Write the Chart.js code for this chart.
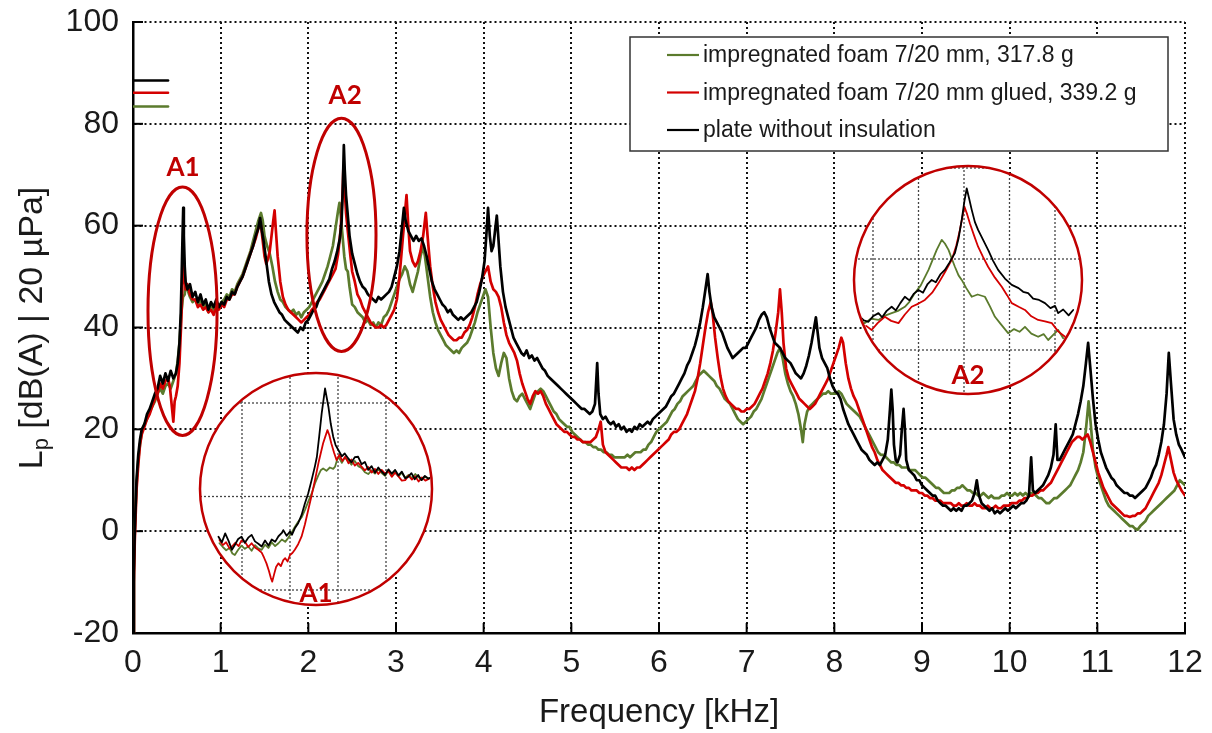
<!DOCTYPE html>
<html>
<head>
<meta charset="utf-8">
<script src="https://cdn.jsdelivr.net/npm/chart.js@4.4.0/dist/chart.umd.min.js"></script>
<style>
  html, body { margin: 0; padding: 0; background: #fff; }
</style>
</head>
<body>
<canvas id="splChart" width="1212" height="733"></canvas>
<script>
// ---- data (frequency in kHz, level in dB(A)) ----
const xTicks = [0, 1, 2, 3, 4, 5, 6, 7, 8, 9, 10, 11, 12];
const yTicks = [-20, 0, 20, 40, 60, 80, 100];

const seriesLabels = [
    'impregnated foam 7/20 mm, 317.8 g',
    'impregnated foam 7/20 mm glued, 339.2 g',
    'plate without insulation'
];

const greenTrace = [
    [0,-20],[0.01,-8],[0.02,0],[0.04,9],[0.06,14],[0.08,17],[0.1,19.5],[0.13,21],[0.16,22],[0.19,23.5],
    [0.22,24.5],[0.25,25.5],[0.28,27],[0.31,28],[0.34,27],[0.37,28.5],[0.4,29],[0.43,28],[0.46,29.5],[0.49,31],
    [0.51,33.5],[0.53,37],[0.55,42.5],[0.57,46],[0.59,46.5],[0.6,48.5],[0.62,47.5],[0.65,46],[0.68,45],[0.71,45.5],
    [0.74,44.5],[0.77,45.5],[0.8,44],[0.83,45],[0.86,43],[0.89,44.5],[0.92,43.5],[0.95,45],[0.98,44],[1.01,45],
    [1.04,45.5],[1.07,46.5],[1.1,46],[1.13,47.5],[1.16,47],[1.19,48.5],[1.22,49.5],[1.25,50.5],[1.28,52],[1.31,53.5],
    [1.34,55],[1.37,57],[1.4,59],[1.43,61],[1.46,62.5],[1.48,61],[1.5,58],[1.53,56],[1.56,54.5],[1.59,52],
    [1.62,49],[1.65,47],[1.68,45.5],[1.71,45],[1.74,44],[1.77,43.5],[1.8,43],[1.83,43.5],[1.86,42.5],[1.89,43],
    [1.92,42],[1.95,43],[1.98,43.5],[2.01,44],[2.04,45],[2.07,46],[2.1,47],[2.13,48],[2.16,49],[2.19,50.5],
    [2.22,52],[2.25,54],[2.28,56],[2.31,59.5],[2.34,63],[2.355,64.5],[2.37,62],[2.39,58],[2.41,54],[2.43,51.5],
    [2.45,51],[2.47,48],[2.5,44.5],[2.53,44],[2.56,43],[2.59,42.5],[2.62,42],[2.65,41],[2.68,41.5],[2.71,40.5],
    [2.74,41],[2.77,40],[2.8,41],[2.83,40.5],[2.86,42],[2.89,42.5],[2.92,43.5],[2.95,45],[2.98,46.5],[3.01,48],
    [3.04,49.5],[3.07,50.5],[3.1,52],[3.13,51],[3.16,48.5],[3.19,47],[3.22,49],[3.25,51],[3.28,54],[3.31,56],
    [3.33,54],[3.36,50],[3.39,46],[3.42,43],[3.45,41],[3.48,39.5],[3.51,38.5],[3.54,37.5],[3.57,36.5],[3.6,36],
    [3.63,35.5],[3.66,35],[3.69,35.5],[3.72,35],[3.75,36],[3.78,36.5],[3.81,37],[3.84,38],[3.87,39.5],[3.9,41],
    [3.93,43],[3.96,44.5],[3.99,46],[4.02,47.5],[4.05,46],[4.08,40],[4.11,35],[4.14,32],[4.17,30.5],[4.2,33],
    [4.23,35],[4.26,34],[4.29,30],[4.32,27.5],[4.35,26],[4.38,25.5],[4.41,26.5],[4.44,27],[4.47,26],[4.5,25],
    [4.53,24],[4.56,25.5],[4.59,27],[4.62,27.5],[4.65,28],[4.68,27.5],[4.71,26.5],[4.74,25.5],[4.77,24.5],[4.8,23.5],
    [4.83,23],[4.86,22],[4.89,21.5],[4.92,21],[4.95,20.5],[4.98,20.5],[5.01,19.5],[5.04,19],[5.07,18.5],[5.1,18],
    [5.13,17.5],[5.16,17.5],[5.19,17],[5.22,17],[5.25,16.5],[5.28,16.5],[5.31,16],[5.34,16],[5.37,15.5],[5.4,15.5],
    [5.43,15],[5.46,15],[5.49,14.5],[5.52,14.5],[5.55,14.5],[5.58,14.5],[5.61,14.5],[5.64,15],[5.67,14.5],[5.7,15],
    [5.73,15.5],[5.76,15.5],[5.79,15.5],[5.82,16],[5.85,16],[5.88,17],[5.91,17.5],[5.94,18.5],[5.97,19.5],[6,20],
    [6.03,20.5],[6.06,21],[6.09,21.5],[6.12,22.5],[6.15,23.5],[6.18,24],[6.21,25],[6.24,25.5],[6.27,26.5],[6.3,27],
    [6.33,27.5],[6.36,28],[6.39,28.5],[6.42,29.5],[6.45,30.5],[6.48,31],[6.51,31.5],[6.54,31],[6.57,30.5],[6.6,30],
    [6.63,29.5],[6.66,28.5],[6.69,28],[6.72,27],[6.75,26],[6.78,25.5],[6.81,25],[6.84,24],[6.87,23],[6.9,22],
    [6.93,21.5],[6.96,21],[6.99,21.5],[7.02,22],[7.05,22.5],[7.08,23.5],[7.11,24],[7.14,25],[7.17,26],[7.2,27.5],
    [7.23,29],[7.26,30.5],[7.29,32],[7.32,33.5],[7.35,35],[7.38,36],[7.41,34],[7.44,31],[7.47,29],[7.5,27.5],
    [7.53,26.5],[7.56,25],[7.59,23],[7.62,20],[7.64,17.5],[7.66,21],[7.69,23.5],[7.72,24.5],[7.75,25],[7.78,25.5],
    [7.81,26],[7.84,26.5],[7.87,27],[7.9,27],[7.93,27.5],[7.96,27],[7.99,27],[8.02,27],[8.05,27.5],[8.08,27],
    [8.11,26],[8.14,25],[8.17,24.5],[8.2,24],[8.23,23.5],[8.26,23],[8.29,22.5],[8.32,21.5],[8.35,20.5],[8.38,19.5],
    [8.41,18.5],[8.44,17.5],[8.47,16.5],[8.5,15.5],[8.53,15],[8.56,15],[8.59,14.5],[8.62,14],[8.65,13.5],[8.68,13.5],
    [8.71,13],[8.74,13],[8.77,12.5],[8.8,12.5],[8.83,12.5],[8.86,12],[8.89,12],[8.92,12],[8.95,11.5],[8.98,11],
    [9.01,10.5],[9.04,10.5],[9.07,10],[9.1,9.5],[9.13,9],[9.16,8.5],[9.19,8.5],[9.22,8],[9.25,7.5],[9.28,7.5],
    [9.31,7.5],[9.34,8],[9.37,8],[9.4,8.5],[9.43,8.5],[9.46,9],[9.49,8.5],[9.52,8],[9.55,8],[9.58,7.5],
    [9.61,7.5],[9.64,7],[9.67,7],[9.7,7.5],[9.73,7],[9.76,6.5],[9.79,7],[9.82,6.5],[9.85,6.5],[9.88,6.5],
    [9.91,7],[9.94,7],[9.97,7.5],[10,7],[10.03,7],[10.06,7.5],[10.09,7],[10.12,7.5],[10.15,7],[10.18,7.5],
    [10.21,7],[10.24,7.5],[10.27,7.5],[10.3,7],[10.33,6.5],[10.36,6.5],[10.39,6],[10.42,5.5],[10.45,5.5],[10.48,6],
    [10.51,6.5],[10.54,6.5],[10.57,7],[10.6,7.5],[10.63,8],[10.66,8.5],[10.69,9],[10.72,10],[10.75,11],[10.78,12],
    [10.81,13.5],[10.84,15.5],[10.87,20],[10.9,25.5],[10.92,22],[10.95,16],[10.98,12.5],[11.01,10.5],[11.04,9],[11.07,7.5],
    [11.1,6],[11.13,5],[11.16,4.5],[11.19,4],[11.22,3.5],[11.25,3],[11.28,2.5],[11.31,2],[11.34,1.5],[11.37,1],
    [11.4,1],[11.43,0.5],[11.46,0.3],[11.49,1],[11.52,1.5],[11.55,2],[11.58,3],[11.61,3.5],[11.64,4],[11.67,4.5],
    [11.7,5],[11.73,5.5],[11.76,6],[11.79,6.5],[11.82,7],[11.85,7.5],[11.88,8],[11.91,9],[11.94,10],[11.97,9.5],[12,9]
];

const redTrace = [
    [0,-20],[0.01,-10],[0.02,-2],[0.04,8],[0.06,13],[0.08,17],[0.1,19],[0.13,20.5],[0.16,22],[0.19,23],
    [0.22,24.5],[0.25,26],[0.28,27],[0.31,29],[0.34,28],[0.37,29.5],[0.4,30],[0.42,28.5],[0.44,25],[0.46,21.5],
    [0.475,25.5],[0.49,26.5],[0.51,28.5],[0.53,33],[0.55,41],[0.565,49],[0.578,54],[0.59,50],[0.6,47.5],[0.62,48.5],
    [0.65,46.5],[0.68,45.5],[0.71,45.5],[0.74,44],[0.77,44.5],[0.8,43.5],[0.83,44],[0.86,43],[0.89,43.5],[0.92,42.5],
    [0.95,44],[0.98,43.5],[1.01,44.5],[1.04,44],[1.07,45.5],[1.1,45.5],[1.13,46.5],[1.16,46.5],[1.19,48],[1.22,49],
    [1.25,50],[1.28,51.5],[1.31,53],[1.34,54.5],[1.37,56],[1.4,57.5],[1.43,59.5],[1.46,60],[1.48,57],[1.5,54],
    [1.52,52.5],[1.54,53.5],[1.56,55],[1.58,58],[1.6,61],[1.615,63],[1.63,59],[1.65,54],[1.68,49],[1.71,46],
    [1.74,44.5],[1.77,43.5],[1.8,43],[1.83,42.5],[1.86,42],[1.89,41.5],[1.92,41],[1.95,41.5],[1.98,42],[2.01,42.5],
    [2.04,43.5],[2.07,44],[2.1,45],[2.13,45.5],[2.16,46.5],[2.19,47.5],[2.22,48.5],[2.25,49.5],[2.28,50.5],[2.31,51.5],
    [2.34,54.5],[2.37,59.5],[2.39,66],[2.4,71.5],[2.415,67],[2.43,62.5],[2.45,59],[2.48,54],[2.5,51],[2.53,49],
    [2.56,46.5],[2.59,45.5],[2.62,44],[2.65,43],[2.68,42],[2.71,41],[2.74,40.5],[2.77,40],[2.8,40],[2.83,40.5],
    [2.86,40],[2.89,40.5],[2.92,41.5],[2.95,42.5],[2.98,43.5],[3.01,45.5],[3.04,50],[3.07,56],[3.1,62],[3.12,66],
    [3.14,60],[3.16,55],[3.19,53],[3.22,52],[3.25,53],[3.28,55],[3.31,58],[3.34,62.5],[3.36,58],[3.39,52],
    [3.42,48],[3.45,45],[3.48,43],[3.51,41.5],[3.54,40.5],[3.57,39.5],[3.6,38.5],[3.63,38],[3.66,37.5],[3.69,37.5],
    [3.72,38],[3.75,38],[3.78,39],[3.81,39.5],[3.84,40.5],[3.87,42],[3.9,44],[3.93,46.5],[3.96,48.5],[3.99,50],
    [4.02,51],[4.05,52],[4.08,49],[4.11,47.5],[4.14,47],[4.17,46],[4.2,44],[4.23,41],[4.26,38.5],[4.29,37],
    [4.32,36],[4.35,35],[4.38,33.5],[4.41,31],[4.44,29],[4.47,27.5],[4.5,26],[4.53,25],[4.56,26.5],[4.59,27.5],
    [4.62,27],[4.65,27.5],[4.68,26.5],[4.71,25],[4.74,24],[4.77,23],[4.8,22],[4.83,21],[4.86,20.5],[4.89,20],
    [4.92,19.5],[4.95,19.5],[4.98,19],[5.01,18.5],[5.04,18.5],[5.07,18],[5.1,18],[5.13,17.5],[5.16,17.5],[5.19,17.5],
    [5.22,17.5],[5.25,18],[5.28,18.5],[5.31,20],[5.335,21.5],[5.36,17],[5.39,15.5],[5.42,15],[5.45,14.5],[5.48,14],
    [5.51,13.5],[5.54,13],[5.57,12.5],[5.6,12.5],[5.63,12.5],[5.66,12],[5.69,12.5],[5.72,12],[5.75,12.5],[5.78,12.5],
    [5.81,13],[5.84,13.5],[5.87,14],[5.9,14.5],[5.93,15],[5.96,15.5],[5.99,16],[6.02,16.5],[6.05,17],[6.08,17.5],
    [6.11,18],[6.14,19],[6.17,19.5],[6.2,19.5],[6.23,20],[6.26,21],[6.29,22],[6.32,23],[6.35,24.5],[6.38,26],
    [6.41,27.5],[6.44,30],[6.47,33],[6.5,36.5],[6.53,40],[6.56,43],[6.59,45],[6.61,43],[6.64,38],[6.67,34],
    [6.7,30.5],[6.73,28],[6.76,26.5],[6.79,25.5],[6.82,25],[6.85,24.5],[6.88,24],[6.91,24],[6.94,23.5],[6.97,23.5],
    [7,24],[7.03,24],[7.06,24.5],[7.09,25],[7.12,26],[7.15,27],[7.18,28],[7.21,29.5],[7.24,31],[7.27,33],
    [7.3,35.5],[7.33,39],[7.36,43],[7.38,47.5],[7.4,43],[7.42,37],[7.45,32],[7.48,30],[7.51,29],[7.54,28],
    [7.57,27],[7.6,26],[7.63,25.5],[7.66,25],[7.69,24.5],[7.72,24],[7.75,24.5],[7.78,25],[7.81,26],[7.84,27],
    [7.87,28],[7.9,29],[7.93,30],[7.96,31.5],[7.99,33],[8.02,34.5],[8.05,36],[8.08,38],[8.1,37],[8.13,33],
    [8.16,30],[8.19,28],[8.22,26.5],[8.25,25.5],[8.28,24],[8.31,22.5],[8.34,21],[8.37,19.5],[8.4,18],[8.43,16.5],
    [8.46,15.5],[8.49,14],[8.52,13],[8.55,12],[8.58,11.5],[8.61,11],[8.64,10.5],[8.67,10],[8.7,9.5],[8.73,9.5],
    [8.76,9],[8.79,9],[8.82,8.5],[8.85,8.5],[8.88,8],[8.91,8],[8.94,8],[8.97,7.5],[9,7.5],[9.03,7],
    [9.06,7],[9.09,6.5],[9.12,6.5],[9.15,6],[9.18,6],[9.21,6],[9.24,5.5],[9.27,5.5],[9.3,5.5],[9.33,5.5],
    [9.36,5],[9.39,5],[9.42,5.5],[9.45,5],[9.48,5],[9.51,5.5],[9.54,5],[9.57,5],[9.6,5.5],[9.63,5],
    [9.66,5],[9.69,4.5],[9.72,4.5],[9.75,5],[9.78,4.5],[9.81,4.5],[9.84,5],[9.87,4.5],[9.9,4.5],[9.93,5],
    [9.96,5],[9.99,5],[10.02,5.5],[10.05,5.5],[10.08,5.5],[10.11,6],[10.14,6],[10.17,6.5],[10.2,6.5],[10.23,7],
    [10.26,7],[10.29,7.5],[10.32,7.5],[10.35,8],[10.38,8],[10.41,8.5],[10.44,9],[10.47,9.5],[10.5,10.5],[10.53,11.5],
    [10.56,12.5],[10.59,13.5],[10.62,14.5],[10.65,15.5],[10.68,16.5],[10.71,17.5],[10.74,18],[10.77,18.5],[10.8,18.5],[10.83,18],
    [10.86,18.5],[10.89,19],[10.92,17.5],[10.95,15.5],[10.98,13.5],[11.01,11.5],[11.04,10],[11.07,8.5],[11.1,7.5],[11.13,6.5],
    [11.16,5.5],[11.19,5],[11.22,4.5],[11.25,4],[11.28,3.5],[11.31,3],[11.34,3],[11.37,2.8],[11.4,3],[11.43,3],
    [11.46,3.5],[11.49,3.5],[11.52,4],[11.55,4.5],[11.58,5.5],[11.61,6.5],[11.64,7.5],[11.67,8.5],[11.7,9.5],[11.73,11],
    [11.76,13],[11.79,15],[11.81,16.5],[11.84,14],[11.87,11.5],[11.9,10],[11.93,9],[11.96,8],[12,7]
];

const blackTrace = [
    [0,-20],[0.01,-8],[0.02,0],[0.04,10],[0.06,15],[0.08,18],[0.1,20],[0.13,21],[0.16,23],[0.19,24],
    [0.22,25.5],[0.25,27],[0.28,28],[0.31,30.5],[0.34,29],[0.37,31],[0.4,29.5],[0.43,31.5],[0.46,30],[0.49,31],
    [0.51,33],[0.53,37],[0.545,43],[0.555,50],[0.565,58],[0.573,63.5],[0.58,58],[0.59,52],[0.6,49],[0.62,47.5],
    [0.65,48.5],[0.68,46],[0.71,47],[0.74,45],[0.77,46.5],[0.8,44.5],[0.83,45.5],[0.86,43.5],[0.89,45],[0.92,44],
    [0.95,45.5],[0.98,44],[1.01,45],[1.04,44.5],[1.07,46],[1.1,45.5],[1.13,47],[1.16,46.5],[1.19,48],[1.22,49],
    [1.25,50],[1.28,51.5],[1.31,53],[1.34,54.5],[1.37,56],[1.4,58],[1.43,59.5],[1.45,61.5],[1.47,59],[1.49,57],
    [1.52,53],[1.55,49],[1.58,46.5],[1.61,45],[1.64,44],[1.67,43],[1.7,42.5],[1.73,41.5],[1.76,41],[1.79,40.5],
    [1.82,40],[1.85,39.5],[1.88,39],[1.91,40],[1.94,39.5],[1.97,41],[2,41.5],[2.03,42.5],[2.06,43.5],[2.09,44],
    [2.12,45.5],[2.15,46.5],[2.18,47.5],[2.21,48.5],[2.24,49.5],[2.27,51.5],[2.3,53],[2.33,55],[2.36,57.5],[2.38,61],
    [2.395,68.5],[2.405,75.8],[2.415,71],[2.43,66],[2.45,62],[2.47,58],[2.5,54.5],[2.53,52.5],[2.56,50.5],[2.59,49],
    [2.62,48],[2.65,47.5],[2.68,46.5],[2.71,46],[2.74,45.5],[2.77,45],[2.8,46],[2.83,45.5],[2.86,46],[2.89,46.5],
    [2.92,47],[2.95,48],[2.98,50],[3.01,52],[3.04,55],[3.07,60],[3.09,63.5],[3.11,61],[3.14,59],[3.17,58],
    [3.2,57],[3.23,58],[3.26,57],[3.29,57.5],[3.32,56],[3.35,54],[3.38,51.5],[3.41,49],[3.44,47.5],[3.47,46.5],
    [3.5,45.5],[3.53,44.5],[3.56,44],[3.59,43],[3.62,43.5],[3.65,42.5],[3.68,42],[3.71,41.5],[3.74,42],[3.77,41.5],
    [3.8,42],[3.83,42.5],[3.86,43],[3.89,44],[3.92,45],[3.95,47],[3.98,49.5],[4.01,53],[4.03,58],[4.05,63.5],
    [4.07,58],[4.09,55],[4.11,56],[4.13,59],[4.15,62],[4.17,57],[4.19,52],[4.22,47],[4.25,44],[4.28,42],
    [4.31,40],[4.34,38],[4.37,37],[4.4,36],[4.43,35],[4.46,34.5],[4.49,35.5],[4.52,34],[4.55,34.5],[4.58,33.5],
    [4.61,34],[4.64,33],[4.67,32],[4.7,31.5],[4.73,30.5],[4.76,30],[4.79,29.5],[4.82,29],[4.85,28.5],[4.88,28],
    [4.91,27.5],[4.94,27],[4.97,26.5],[5,26],[5.03,25.5],[5.06,25],[5.09,24.5],[5.12,24],[5.15,24],[5.18,23.5],
    [5.21,23],[5.24,23.5],[5.27,25],[5.295,33],[5.31,27],[5.33,23],[5.36,22],[5.39,22.5],[5.42,21.5],[5.45,21],
    [5.48,21.5],[5.51,20.5],[5.54,21],[5.57,20],[5.6,20.5],[5.63,19.5],[5.66,20],[5.69,19.5],[5.72,20.5],[5.75,20],
    [5.78,21],[5.81,20.5],[5.84,21],[5.87,21.5],[5.9,21],[5.93,22],[5.96,22.5],[5.99,23],[6.02,23.5],[6.05,24],
    [6.08,24.5],[6.11,25.5],[6.14,26.5],[6.17,27],[6.2,28],[6.23,29],[6.26,30],[6.29,31],[6.32,32.5],[6.35,33.5],
    [6.38,35],[6.41,36.5],[6.44,38.5],[6.47,41],[6.5,44],[6.53,47.5],[6.555,50.5],[6.575,47],[6.6,44],[6.63,42],
    [6.66,41],[6.69,40],[6.72,39],[6.75,37.5],[6.78,36],[6.81,35],[6.84,34],[6.87,34.5],[6.9,35],[6.93,35.5],
    [6.96,36],[6.99,36],[7.02,37],[7.05,38],[7.08,39],[7.11,40],[7.14,41.5],[7.17,42.5],[7.2,43],[7.23,42],
    [7.26,40],[7.29,38.5],[7.32,37],[7.35,36.5],[7.38,36],[7.41,35],[7.44,34],[7.47,33.5],[7.5,33],[7.53,32],
    [7.56,31],[7.59,30.5],[7.62,30],[7.65,31],[7.68,32.5],[7.71,34.5],[7.74,37],[7.77,40],[7.79,42],[7.81,39],
    [7.83,36],[7.86,34],[7.89,33],[7.92,32],[7.95,30],[7.98,28.5],[8.01,27.5],[8.04,27],[8.07,26],[8.1,24],
    [8.13,22.5],[8.16,21],[8.19,20],[8.22,19],[8.25,18],[8.28,17],[8.31,16],[8.34,15.5],[8.37,15],[8.4,14],
    [8.43,13.5],[8.46,13],[8.49,13.5],[8.52,13],[8.55,14],[8.58,15],[8.61,18],[8.635,24],[8.65,27.8],[8.665,24],
    [8.68,17],[8.7,14],[8.72,13.5],[8.75,15],[8.77,20],[8.79,24],[8.805,20],[8.82,14],[8.85,12],[8.88,11.5],
    [8.91,11],[8.94,10],[8.97,10],[9,9],[9.03,8.5],[9.06,8],[9.09,7.5],[9.12,7],[9.15,7],[9.18,6],
    [9.21,5.5],[9.24,5],[9.27,5],[9.3,4.5],[9.33,4],[9.36,4.5],[9.39,4],[9.42,4.5],[9.45,4],[9.48,5],
    [9.51,5],[9.54,5.5],[9.57,6],[9.6,7.5],[9.625,10],[9.65,7],[9.68,5.5],[9.71,5],[9.74,4.5],[9.77,4],
    [9.8,4.5],[9.83,3.5],[9.86,4],[9.89,3.5],[9.92,4],[9.95,4.5],[9.98,4],[10.01,4.5],[10.04,5],[10.07,4.5],
    [10.1,5],[10.13,5.5],[10.16,5.5],[10.19,6],[10.22,7],[10.245,14.5],[10.265,8],[10.29,7.5],[10.32,8],[10.35,8.5],
    [10.38,9],[10.41,10],[10.44,11],[10.47,12.5],[10.5,15],[10.525,21],[10.545,14],[10.57,14],[10.6,15],[10.63,16],
    [10.66,17],[10.69,18],[10.72,19],[10.75,21],[10.78,23],[10.81,25.5],[10.84,28.5],[10.87,33],[10.895,37],[10.92,32],
    [10.95,26],[10.98,21],[11.01,18],[11.04,15.5],[11.07,14],[11.1,12.5],[11.13,11.5],[11.16,10.5],[11.19,10],[11.22,9],
    [11.25,8.5],[11.28,8],[11.31,7.5],[11.34,7.5],[11.37,7],[11.4,7],[11.43,6.5],[11.46,7],[11.49,7.5],[11.52,8],
    [11.55,8.5],[11.58,9.5],[11.61,10.5],[11.64,12],[11.67,13],[11.7,15],[11.73,17.5],[11.76,21],[11.79,27],[11.815,35],
    [11.84,29],[11.87,22],[11.9,19],[11.93,17],[11.96,16],[12,14.5]
];

// magnified views A1 (around 0.55 kHz) and A2 (around 2.4 kHz)
const a1Green = [
    [0.353,30],[0.36,29.2],[0.367,28.5],[0.374,29],[0.38,27.8],[0.385,27.5],[0.392,28.6],[0.399,29.5],[0.406,28.8],[0.413,29.3],
    [0.42,28.4],[0.427,29.6],[0.434,28.9],[0.441,28.6],[0.448,29.7],[0.455,29],[0.462,30.2],[0.469,29.4],[0.476,30],[0.483,30.8],
    [0.49,30.3],[0.496,31.1],[0.503,32.2],[0.51,33.5],[0.517,34.6],[0.524,35.5],[0.531,37.1],[0.538,38.9],[0.545,40.6],[0.552,42.8],
    [0.559,44.5],[0.564,45.6],[0.569,46],[0.576,45.5],[0.583,46.2],[0.59,45.9],[0.594,46.4],[0.598,47.8],[0.601,48.5],[0.608,47.2],
    [0.614,48.3],[0.621,47.8],[0.628,46.8],[0.635,47.6],[0.642,46.5],[0.649,46.1],[0.656,45.2],[0.663,44.8],[0.67,45.6],[0.677,44.9],
    [0.684,45.8],[0.691,45],[0.698,44.4],[0.705,45.5],[0.712,44.7],[0.719,45.3],[0.726,44.3],[0.733,45.1],[0.74,44],[0.747,44.6],
    [0.754,43.9],[0.761,44.8],[0.768,44.1],[0.775,43.6],[0.78,44.2],[0.79,43.9]
];
const a1Red = [
    [0.353,30.7],[0.36,29.6],[0.367,30.2],[0.374,28.9],[0.379,29.3],[0.386,30.1],[0.393,29.4],[0.399,30.6],[0.406,30.3],[0.413,29.2],
    [0.42,30],[0.427,29.1],[0.434,28.6],[0.441,28],[0.446,26.9],[0.451,25.7],[0.456,24.1],[0.46,22.6],[0.463,21.8],[0.467,23.4],
    [0.471,24.9],[0.476,25.7],[0.481,25.1],[0.486,26.4],[0.49,26.8],[0.495,26.1],[0.5,27.5],[0.505,27.9],[0.51,28.6],[0.517,29.8],
    [0.524,31.4],[0.531,34],[0.538,37.1],[0.545,40.2],[0.552,43.5],[0.56,47.5],[0.569,51.4],[0.578,54.2],[0.582,53.1],[0.586,51.4],
    [0.592,49.3],[0.597,47.8],[0.603,48.9],[0.609,47.6],[0.615,48.5],[0.622,47.1],[0.628,47.9],[0.635,46.6],[0.642,47.2],[0.649,46.4],
    [0.656,45.6],[0.663,46.3],[0.67,45.1],[0.677,45.9],[0.684,44.8],[0.691,45.7],[0.698,44.9],[0.705,45.4],[0.712,44.2],[0.719,45.1],
    [0.726,44.3],[0.733,43.4],[0.74,43.5],[0.747,44.5],[0.754,43.6],[0.761,44.3],[0.768,43.2],[0.775,44.1],[0.782,43.4],[0.79,43.8]
];
const a1Black = [
    [0.351,31.4],[0.358,30.2],[0.365,32.1],[0.372,30.5],[0.379,28.6],[0.386,29.8],[0.392,30.9],[0.399,31.4],[0.406,30.1],[0.413,31.2],
    [0.42,31.8],[0.427,30.4],[0.434,29.9],[0.441,29.3],[0.448,30.6],[0.455,29.5],[0.462,30.8],[0.469,30.3],[0.476,31.5],[0.483,32.2],
    [0.486,32.8],[0.493,31.6],[0.5,32.5],[0.504,31.8],[0.51,33.2],[0.517,34.3],[0.524,36],[0.531,38.5],[0.538,40.7],[0.545,43.5],
    [0.552,46.5],[0.556,48.5],[0.561,53],[0.566,57.8],[0.573,63.1],[0.58,59.2],[0.585,55.5],[0.59,52.8],[0.595,51],[0.601,49.9],
    [0.608,48.6],[0.614,49.2],[0.621,48.2],[0.628,47.3],[0.635,48.4],[0.642,48.5],[0.649,46.9],[0.656,47.4],[0.663,45.7],[0.67,46.5],
    [0.677,45.1],[0.684,46.2],[0.691,45.3],[0.698,44.6],[0.705,45.8],[0.712,44.9],[0.719,45.7],[0.726,44.5],[0.733,45.3],[0.74,43.9],
    [0.746,44.2],[0.753,45],[0.76,43.7],[0.767,44.6],[0.774,43.5],[0.781,44.4],[0.788,43.8],[0.795,44.2]
];
const a2Green = [
    [2.172,46.5],[2.182,45.9],[2.195,46.9],[2.212,46.6],[2.225,47.5],[2.241,48.1],[2.255,48.6],[2.27,49.5],[2.28,50.6],[2.292,52.5],
    [2.305,54.2],[2.314,56],[2.322,57.6],[2.331,59.8],[2.34,62],[2.351,64.2],[2.358,63.4],[2.366,62],[2.373,60.1],[2.38,58.3],
    [2.388,56.4],[2.395,55.4],[2.405,53.6],[2.417,51.7],[2.43,52.2],[2.446,51.7],[2.457,49.6],[2.468,47.3],[2.48,45.8],[2.497,43.7],
    [2.51,44.6],[2.522,44],[2.534,45.1],[2.548,43.6],[2.563,42.9],[2.575,43.5],[2.585,42.2],[2.596,43.3],[2.607,44.4],[2.618,42.6]
];
const a2Red = [
    [2.185,45.3],[2.197,44.4],[2.21,45.9],[2.226,47.3],[2.24,46.4],[2.256,45.9],[2.27,47.8],[2.285,49.5],[2.3,50.2],[2.314,51],
    [2.33,52.6],[2.344,54.7],[2.358,57.1],[2.373,59.8],[2.383,62.9],[2.391,66.4],[2.397,69.5],[2.401,71.5],[2.407,69.8],[2.413,67.8],
    [2.422,65.2],[2.431,62.7],[2.442,60.4],[2.453,58.3],[2.468,55.9],[2.483,53.9],[2.495,52],[2.505,50.3],[2.52,49.5],[2.534,48.8],
    [2.548,47.4],[2.563,46.6],[2.578,46.3],[2.593,45.9],[2.607,44.1],[2.622,42.9]
];
const a2Black = [
    [2.171,47.3],[2.18,46.5],[2.19,46.2],[2.2,47.4],[2.212,48.1],[2.22,47.2],[2.23,48.6],[2.241,49.5],[2.25,48.7],[2.26,50.3],
    [2.27,51.7],[2.28,50.9],[2.29,52.4],[2.3,53.2],[2.31,52.6],[2.32,54.5],[2.329,55.4],[2.338,54.9],[2.348,56.6],[2.358,57.6],
    [2.368,59.2],[2.38,61.3],[2.388,64.5],[2.395,68.6],[2.401,72.8],[2.406,75.5],[2.411,73.4],[2.417,70.8],[2.424,68.1],[2.431,66.4],
    [2.442,64.2],[2.453,62],[2.464,59.6],[2.475,57.6],[2.49,55.7],[2.505,54.3],[2.52,53.6],[2.53,52.8],[2.541,52.5],[2.552,51.3],
    [2.565,51],[2.578,50.3],[2.59,49.2],[2.6,49.7],[2.607,48.1],[2.618,48.9],[2.63,47.6],[2.64,48.8]
];

// short coloured stubs at the top of the y axis (black, red, green)
const stubLevels = [88.5, 86.1, 83.4];
const stubEnd = 0.4;

// ---- look ----
const GREEN = '#5b7b2d';
const RED = '#d40000';
const BLACK = '#000000';
const MARK = '#c00000';
const FONT = '"Liberation Sans", Arial, sans-serif';
const AREA = { left: 133, right: 1185, top: 22, bottom: 633 };

// inset geometry: pixel circle + which value sits on which pixel
const insets = [
    { name: 'A1', cx: 316, cy: 489, r: 116, x: 'xA1', y: 'yA1',
      f0: 0.4, px0: 242, pxPerKHz: 480, v0: 60, py0: 403, pxPerDb: 4.675,
      gridF: [0.3, 0.4, 0.5, 0.6, 0.7, 0.8], gridV: [80, 60, 40, 20], labelY: 594 },
    { name: 'A2', cx: 968, cy: 280, r: 114, x: 'xA2', y: 'yA2',
      f0: 2.4, px0: 964, pxPerKHz: 455, v0: 60, py0: 259, pxPerDb: 4.55,
      gridF: [2.1, 2.2, 2.3, 2.4, 2.5, 2.6, 2.7], gridV: [80, 60, 40, 20], labelY: 376 }
];

// ellipses on the main plot, in data units
const ellipses = [
    { f: 0.565, v: 43.2, rf: 0.394, rv: 24.4, label: 'A1', lf: 0.57, lv: 71.5 },
    { f: 2.378, v: 58.2, rf: 0.394, rv: 22.9, label: 'A2', lf: 2.42, lv: 85.5 }
];

const toXY = arr => arr.map(([x, y]) => ({ x, y }));

const insetScale = (ins) => {
    const xMin = ins.f0 - (ins.px0 - AREA.left) / ins.pxPerKHz;
    const yMin = ins.v0 - (AREA.bottom - ins.py0) / ins.pxPerDb;
    return {
        [ins.x]: { type: 'linear', display: false, min: xMin, max: xMin + (AREA.right - AREA.left) / ins.pxPerKHz },
        [ins.y]: { type: 'linear', display: false, min: yMin, max: yMin + (AREA.bottom - AREA.top) / ins.pxPerDb }
    };
};

const mainSet = (label, trace, color, order) => ({
    label, data: toXY(trace), borderColor: color, borderWidth: 2.7, order, inLegend: true
});
const insetSet = (trace, color, order, ins, extra) => Object.assign({
    data: toXY(trace), borderColor: color, borderWidth: 1.8, order,
    xAxisID: ins.x, yAxisID: ins.y, inset: ins.name
}, extra || {});

const datasets = [
    mainSet(seriesLabels[0], greenTrace, GREEN, 30),
    mainSet(seriesLabels[1], redTrace, RED, 29),
    mainSet(seriesLabels[2], blackTrace, BLACK, 28),
    ...[BLACK, RED, GREEN].map((c, i) => ({
        data: [{ x: 0, y: stubLevels[i] }, { x: stubEnd, y: stubLevels[i] }],
        borderColor: c, borderWidth: 2.5, order: 27
    })),
    insetSet(a1Green, GREEN, 9, insets[0], { insetFirst: true }),
    insetSet(a1Red, RED, 8, insets[0]),
    insetSet(a1Black, BLACK, 7, insets[0], { insetLast: true }),
    insetSet(a2Green, GREEN, 6, insets[1], { insetFirst: true }),
    insetSet(a2Red, RED, 5, insets[1]),
    insetSet(a2Black, BLACK, 4, insets[1], { insetLast: true })
];

// ---- plugin: insets, ellipses, legend, inner ticks, y title ----
const decorations = {
    id: 'decorations',
    beforeDatasetsDraw(chart) {
        const { ctx, scales: { x, y } } = chart;
        ctx.save();
        ctx.strokeStyle = '#000';
        ctx.lineWidth = 2;
        yTicks.forEach(v => {
            const py = y.getPixelForValue(v);
            ctx.beginPath(); ctx.moveTo(AREA.left, py); ctx.lineTo(AREA.left + 10, py); ctx.stroke();
        });
        xTicks.forEach(v => {
            const px = x.getPixelForValue(v);
            ctx.beginPath(); ctx.moveTo(px, AREA.bottom); ctx.lineTo(px, AREA.bottom - 10); ctx.stroke();
        });
        ctx.restore();
    },
    beforeDatasetDraw(chart, args) {
        const ds = chart.data.datasets[args.index];
        if (!ds.inset) return;
        const ins = insets.find(i => i.name === ds.inset);
        const ctx = chart.ctx;
        if (ds.insetFirst) {
            const sx = chart.scales[ins.x], sy = chart.scales[ins.y];
            ctx.save();
            ctx.beginPath();
            ctx.arc(ins.cx, ins.cy, ins.r, 0, Math.PI * 2);
            ctx.fillStyle = '#fff';
            ctx.fill();
            ctx.clip();
            ctx.strokeStyle = '#444';
            ctx.lineWidth = 1.3;
            ctx.setLineDash([2, 2]);
            ins.gridF.forEach(f => {
                const px = sx.getPixelForValue(f);
                ctx.beginPath(); ctx.moveTo(px, ins.cy - ins.r); ctx.lineTo(px, ins.cy + ins.r); ctx.stroke();
            });
            ins.gridV.forEach(v => {
                const py = sy.getPixelForValue(v);
                ctx.beginPath(); ctx.moveTo(ins.cx - ins.r, py); ctx.lineTo(ins.cx + ins.r, py); ctx.stroke();
            });
            ctx.restore();
        }
        ctx.save();
        ctx.beginPath();
        ctx.arc(ins.cx, ins.cy, ins.r - 1, 0, Math.PI * 2);
        ctx.clip();
    },
    afterDatasetDraw(chart, args) {
        const ds = chart.data.datasets[args.index];
        if (!ds.inset) return;
        const ctx = chart.ctx;
        ctx.restore();
        if (ds.insetLast) {
            const ins = insets.find(i => i.name === ds.inset);
            ctx.save();
            ctx.beginPath();
            ctx.arc(ins.cx, ins.cy, ins.r, 0, Math.PI * 2);
            ctx.strokeStyle = MARK;
            ctx.lineWidth = 2.5;
            ctx.stroke();
            ctx.fillStyle = MARK;
            ctx.font = 'bold 26px Lato, "Open Sans", sans-serif';
            ctx.textAlign = 'center';
            ctx.textBaseline = 'middle';
            ctx.fillText(ins.name, ins.cx, ins.labelY);
            ctx.restore();
        }
    },
    afterDatasetsDraw(chart) {
        const { ctx, scales: { x, y } } = chart;
        ctx.save();
        // ellipses with labels
        ellipses.forEach(e => {
            const cx = x.getPixelForValue(e.f), cy = y.getPixelForValue(e.v);
            const rx = x.getPixelForValue(e.f + e.rf) - cx, ry = cy - y.getPixelForValue(e.v + e.rv);
            ctx.beginPath();
            ctx.ellipse(cx, cy, rx, ry, 0, 0, Math.PI * 2);
            ctx.strokeStyle = MARK;
            ctx.lineWidth = 3;
            ctx.stroke();
            ctx.fillStyle = MARK;
            ctx.font = 'bold 26px Lato, "Open Sans", sans-serif';
            ctx.textAlign = 'center';
            ctx.textBaseline = 'middle';
            ctx.fillText(e.label, x.getPixelForValue(e.lf), y.getPixelForValue(e.lv));
        });
        // legend box
        const box = { left: 630, top: 37, right: 1168, bottom: 151 };
        ctx.fillStyle = '#fff';
        ctx.fillRect(box.left, box.top, box.right - box.left, box.bottom - box.top);
        ctx.strokeStyle = '#333';
        ctx.lineWidth = 1.5;
        ctx.strokeRect(box.left, box.top, box.right - box.left, box.bottom - box.top);
        const rows = chart.data.datasets.filter(d => d.inLegend);
        ctx.font = '23px ' + FONT;
        ctx.textAlign = 'left';
        ctx.textBaseline = 'middle';
        rows.forEach((d, i) => {
            const ry = 55 + i * 37.5;
            ctx.strokeStyle = d.borderColor;
            ctx.lineWidth = 2.2;
            ctx.beginPath(); ctx.moveTo(667, ry); ctx.lineTo(699, ry); ctx.stroke();
            ctx.fillStyle = '#1a1a1a';
            ctx.fillText(d.label, 703, ry + 1);
        });
        ctx.restore();
    },
    afterDraw(chart) {
        // y title with subscript p
        const ctx = chart.ctx;
        const big = '34px ' + FONT, small = '22px ' + FONT;
        const rest = ' [dB(A) | 20 \u00b5Pa]';
        ctx.save();
        ctx.font = big; const wL = ctx.measureText('L').width; const wR = ctx.measureText(rest).width;
        ctx.font = small; const wP = ctx.measureText('p').width;
        const total = wL + wP + wR;
        ctx.translate(30, 328);
        ctx.rotate(-Math.PI / 2);
        ctx.fillStyle = '#1a1a1a';
        ctx.textBaseline = 'alphabetic';
        ctx.textAlign = 'left';
        let px = -total / 2;
        ctx.font = big; ctx.fillText('L', px, 12); px += wL;
        ctx.font = small; ctx.fillText('p', px, 18); px += wP;
        ctx.font = big; ctx.fillText(rest, px, 12);
        ctx.restore();
    }
};

const gridStyle = { color: '#111', lineWidth: 2, drawTicks: false };
const tickFont = { family: FONT, size: 32 };

new Chart(document.getElementById('splChart'), {
    type: 'line',
    data: { datasets },
    options: {
        responsive: false,
        animation: false,
        devicePixelRatio: 1,
        layout: { padding: { top: AREA.top, right: 1212 - AREA.right, left: 0, bottom: 0 } },
        elements: { point: { radius: 0 }, line: { tension: 0, borderJoinStyle: 'round', borderCapStyle: 'round' } },
        plugins: { legend: { display: false }, tooltip: { enabled: false } },
        scales: {
            x: {
                type: 'linear', min: 0, max: 12,
                afterBuildTicks: s => { s.ticks = xTicks.map(value => ({ value })); },
                afterFit: s => { s.height = 733 - AREA.bottom; s.paddingLeft = 0; s.paddingRight = 0; },
                ticks: { font: tickFont, color: '#1a1a1a', padding: 11, maxRotation: 0, autoSkip: false },
                grid: gridStyle,
                border: { display: true, color: '#000', width: 2.5, dash: [2, 3] },
                title: { display: true, text: 'Frequency [kHz]', font: { family: FONT, size: 33 }, color: '#1a1a1a', padding: 0 }
            },
            y: {
                type: 'linear', min: -20, max: 100,
                afterBuildTicks: s => { s.ticks = yTicks.map(value => ({ value })); },
                afterFit: s => { s.width = AREA.left; s.paddingTop = 0; s.paddingBottom = 0; },
                ticks: { font: tickFont, color: '#1a1a1a', padding: 14 },
                grid: gridStyle,
                border: { display: true, color: '#000', width: 2.5, dash: [2, 3] }
            },
            ...insetScale(insets[0]),
            ...insetScale(insets[1])
        }
    },
    plugins: [decorations]
});
</script>
</body>
</html>
